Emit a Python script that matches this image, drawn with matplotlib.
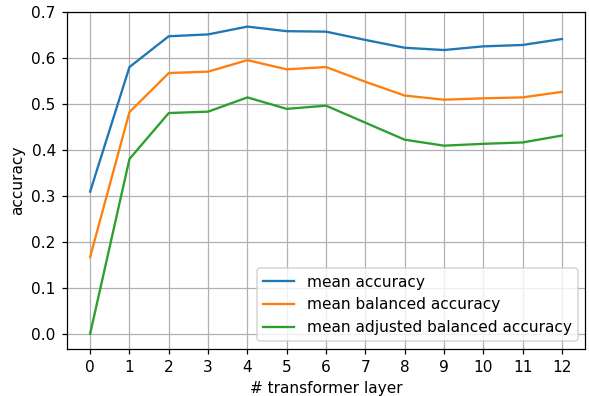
import matplotlib
matplotlib.use('Agg')
import matplotlib.pyplot as plt

# accuracy per transformer layer
layers = list(range(13))
mean_acc = [0.309, 0.580, 0.647, 0.651, 0.668, 0.658, 0.657, 0.639, 0.622, 0.617, 0.625, 0.628, 0.641]
mean_bal_acc = [0.167, 0.482, 0.567, 0.570, 0.595, 0.575, 0.580, 0.548, 0.518, 0.509, 0.512, 0.514, 0.526]
mean_adj_bal_acc = [0.0, 0.380, 0.480, 0.483, 0.514, 0.489, 0.496, 0.459, 0.422, 0.409, 0.413, 0.416, 0.431]

dpi = 111
fig, ax = plt.subplots(figsize=(589 / dpi, 396 / dpi), dpi=dpi)
fig.subplots_adjust(left=0.113, right=0.994, top=0.970, bottom=0.119)

ax.plot(layers, mean_acc, label='mean accuracy')
ax.plot(layers, mean_bal_acc, label='mean balanced accuracy')
ax.plot(layers, mean_adj_bal_acc, label='mean adjusted balanced accuracy')

ax.set_xticks(layers)
ax.set_ylim(-0.033, 0.7)
ax.grid(True)
ax.set_xlabel('# transformer layer')
ax.set_ylabel('accuracy')
ax.legend(loc='lower right')

fig.savefig('out.png', dpi=dpi)
